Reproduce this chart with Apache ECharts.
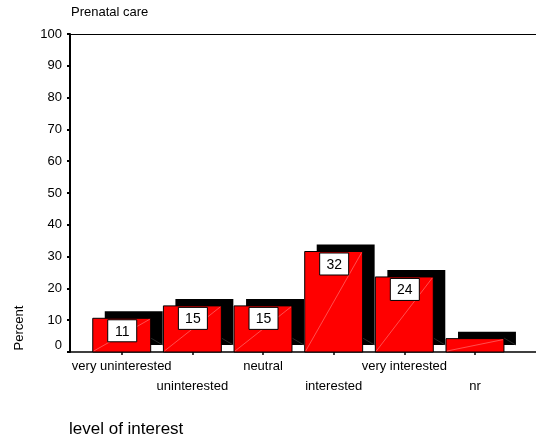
<!DOCTYPE html>
<html><head><meta charset="utf-8">
<script src="https://cdn.jsdelivr.net/npm/echarts@6/dist/echarts.min.js"></script>
<style>html,body{margin:0;padding:0;background:#fff}#c{width:536px;height:440px}</style>
</head><body><div id="c"></div>
<script>
var categories = ['very uninterested','uninterested','neutral','interested','very interested','nr'];
var percentValues = [10.6, 14.5, 14.5, 31.6, 23.6, 4.2];
var valueLabels = ['11','15','15','32','24',null];
var yTicks = [0,10,20,30,40,50,60,70,80,90,100];
var titleText = 'Prenatal care';
var yTitle = 'Percent';
var xTitle = 'level of interest';

var FONT = '"Liberation Sans", Arial, sans-serif';
var chart = echarts.init(document.getElementById('c'), null, {renderer:'canvas'});

function renderBar(params, api){
  var idx = api.value(0);
  var val = api.value(1);
  var top = api.coord([idx, val]);
  var base = api.coord([idx, 0]);
  var band = api.size([1,0])[0];
  var w = band * 0.82;
  var x = top[0] - w/2;
  var h = base[1] - top[1];
  var dx = 12, dy = -7;
  var children = [];
  // back (shadow) face
  children.push({type:'rect', shape:{x:x+dx, y:top[1]+dy, width:w, height:h}, style:{fill:'#000'}});
  // faint 3D edge inside the shadow
  children.push({type:'line', shape:{x1:x+w, y1:base[1]-14, x2:x+w+dx, y2:base[1]+dy}, style:{stroke:'#444', lineWidth:0.6}});
  // front face
  children.push({type:'rect', shape:{x:x, y:top[1], width:w, height:h}, style:{fill:'#ff0000', stroke:'#000', lineWidth:1}});
  children.push({type:'line', shape:{x1:x+1, y1:base[1]-1, x2:x+w-1, y2:top[1]+1}, style:{stroke:'#ff9c9c', lineWidth:0.5}});
  var lab = valueLabels[params.dataIndex];
  if (lab !== null && lab !== undefined) {
    var bw = 29, bh = 22;
    var bx = top[0] - bw/2 + 0.5, by = top[1] + 1.5;
    children.push({type:'rect', shape:{x:bx, y:by, width:bw, height:bh}, style:{fill:'#fff', stroke:'#000', lineWidth:1}});
    children.push({type:'text', x: bx + bw/2, y: by + bh/2 + 1, style:{text: lab, fill:'#000', font:'14px ' + FONT, align:'center', verticalAlign:'middle'}});
  }
  return {type:'group', children: children};
}

var option = {
  animation: false,
  backgroundColor: '#fff',
  textStyle: {fontFamily: FONT},
  title: {text: titleText, left: 66, top: 1, textStyle:{fontSize:13, fontWeight:'normal', color:'#000', fontFamily: FONT}},
  grid: [
    {left:70, right:0, top:34, bottom:88},
    {left:86.4, right:25.7, top:34, bottom:88}
  ],
  xAxis: [
    {gridIndex:0, type:'value', min:0, max:1, position:'bottom',
     axisLine:{show:true, lineStyle:{color:'#000', width:1.5}}, axisTick:{show:false}, axisLabel:{show:false}, splitLine:{show:false}},
    {gridIndex:0, type:'value', min:0, max:1, position:'top',
     axisLine:{show:true, lineStyle:{color:'#000', width:1}}, axisTick:{show:false}, axisLabel:{show:false}, splitLine:{show:false}},
    {gridIndex:1, type:'category', data: categories, boundaryGap:true,
     axisLine:{show:false}, axisTick:{show:true, alignWithLabel:true, length:3, lineStyle:{color:'#000', width:1.5}},
     axisLabel:{interval:0, margin:4, color:'#000', fontSize:13, lineHeight:20, fontFamily:FONT,
       formatter:function(v, i){ return (i % 2 === 1) ? '\n' + v : v; }},
     splitLine:{show:false}}
  ],
  yAxis: [
    {gridIndex:0, type:'value', min:0, max:100, interval:10,
     axisLine:{show:true, lineStyle:{color:'#000', width:2}},
     axisTick:{show:true, length:3, lineStyle:{color:'#000', width:2}},
     axisLabel:{margin:8, color:'#000', fontSize:13, fontFamily:FONT,
       formatter:function(v){ return v === 0 ? '{z|0}' : String(v); },
       rich:{z:{fontSize:13, color:'#000', fontFamily:FONT, padding:[0,0,14,0]}}},
     splitLine:{show:false}},
    {gridIndex:1, type:'value', min:0, max:100, interval:10, show:false}
  ],
  graphic: [
    {type:'text', x:19.5, y:328, rotation:Math.PI/2, style:{text:yTitle, font:'13px ' + FONT, fill:'#000', align:'center', verticalAlign:'middle'}},
    {type:'text', x:69, y:429, style:{text:xTitle, font:'17px ' + FONT, fill:'#000', align:'left', verticalAlign:'middle'}}
  ],
  series: [{
    type:'custom', xAxisIndex:2, yAxisIndex:1,
    renderItem: renderBar,
    encode:{x:0, y:1},
    data: percentValues.map(function(v,i){ return [i, v]; }),
    clip:false
  }]
};
chart.setOption(option);
</script>
</body></html>
